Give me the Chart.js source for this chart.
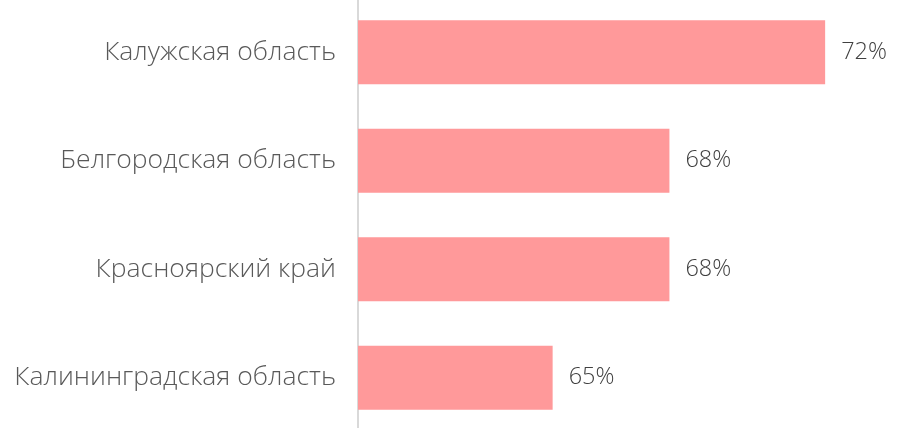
<!DOCTYPE html>
<html>
<head>
<meta charset="utf-8">
<script src="https://cdn.jsdelivr.net/npm/chart.js@4.4.1/dist/chart.umd.min.js"></script>
<style>
  html, body { margin: 0; padding: 0; background: #ffffff; overflow: hidden; }
  body { width: 905px; height: 428px; position: relative; }
  #wrap { position: absolute; left: 0; top: -2px; width: 905px; height: 434px; }
</style>
</head>
<body>
<div id="wrap"><canvas id="c"></canvas></div>
<script>
const categories = ["Калужская область", "Белгородская область", "Красноярский край", "Калининградская область"];
const values = [72, 68, 68, 65];
const valueLabels = ["72%", "68%", "68%", "65%"];

const FONT = "'Open Sans', sans-serif";

const valueLabelPlugin = {
  id: 'valueLabels',
  afterDatasetsDraw(chart) {
    const ctx = chart.ctx;
    const meta = chart.getDatasetMeta(0);
    ctx.save();
    ctx.font = "300 23.5px " + FONT;
    ctx.fillStyle = "#404040";
    ctx.textAlign = "left";
    ctx.textBaseline = "middle";
    meta.data.forEach((bar, i) => {
      ctx.fillText(valueLabels[i], bar.x + 16, bar.y);
    });
    ctx.restore();
  }
};

new Chart(document.getElementById('c'), {
  type: 'bar',
  data: {
    labels: categories,
    datasets: [{
      data: values,
      backgroundColor: '#FF999A',
      borderWidth: 0,
      categoryPercentage: 1,
      barPercentage: 0.59
    }]
  },
  options: {
    indexAxis: 'y',
    responsive: true,
    maintainAspectRatio: false,
    animation: false,
    layout: { padding: { left: 0, right: 2, top: 0, bottom: 0 } },
    plugins: { legend: { display: false }, tooltip: { enabled: false } },
    scales: {
      x: {
        display: false,
        min: 60,
        max: 74
      },
      y: {
        afterFit(scale) { scale.width = 358; scale.paddingTop = 0; scale.paddingBottom = 0; },
        grid: { display: false, drawTicks: false },
        border: { display: true, color: '#d9d9d9', width: 2 },
        ticks: {
          color: '#595959',
          padding: 22,
          font: { family: FONT, size: 26.5, weight: '300' }
        }
      }
    }
  },
  plugins: [valueLabelPlugin]
});
</script>
</body>
</html>
